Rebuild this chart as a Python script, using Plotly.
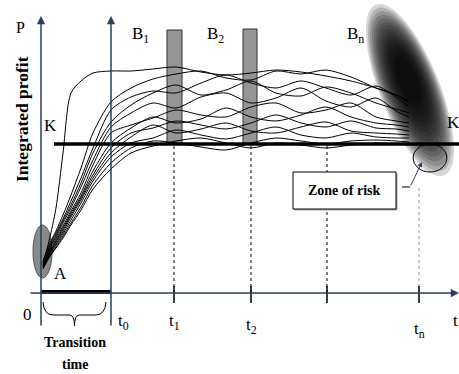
import numpy as np
import plotly.graph_objects as go

# ---------------- data (t = time units, P = integrated profit units) ----------------
t_grid = [2, 8, 15, 22, 30, 40, 52, 70, 90, 112, 135, 160, 185, 210, 235, 260, 285, 310, 335, 355, 368]

curve_P = [
    [30, 52, 85, 140, 200, 212, 220, 222, 222, 224, 226, 221, 218, 220, 223, 221, 217, 212, 205, 198, 190],
    [32, 48, 62, 78, 98, 125, 160, 191, 205, 214, 219, 222, 215, 213, 222, 219, 223, 216, 205, 198, 192],
    [31, 46, 60, 74, 92, 115, 145, 183, 196, 202, 200, 210, 218, 210, 205, 212, 205, 198, 207, 196, 186],
    [29, 44, 58, 72, 88, 110, 140, 171, 188, 200, 208, 198, 203, 212, 200, 197, 206, 200, 190, 184, 180],
    [28, 43, 56, 70, 85, 106, 133, 166, 180, 190, 185, 196, 200, 190, 195, 205, 192, 186, 195, 182, 176],
    [28, 41, 54, 67, 82, 100, 128, 160, 168, 175, 183, 178, 176, 186, 190, 180, 183, 190, 176, 172, 170],
    [27, 40, 52, 65, 80, 97, 122, 150, 165, 176, 170, 174, 185, 176, 172, 178, 186, 176, 170, 168, 166],
    [27, 39, 51, 63, 78, 95, 118, 145, 160, 165, 172, 168, 164, 170, 178, 170, 166, 172, 165, 164, 162],
    [26, 38, 49, 61, 76, 93, 115, 140, 156, 168, 160, 164, 170, 162, 160, 166, 171, 162, 160, 159, 158],
    [25, 37, 48, 59, 73, 90, 112, 136, 150, 155, 163, 158, 154, 160, 166, 158, 155, 160, 156, 155, 155],
    [25, 36, 46, 57, 70, 86, 108, 130, 145, 152, 150, 146, 143, 150, 155, 152, 149, 152, 153, 152, 151],
    [24, 35, 45, 55, 68, 83, 104, 124, 140, 147, 152, 155, 150, 145, 150, 148, 145, 148, 150, 149, 148],
]

T0 = 70
tick_t = [133, 210, 286, 378]
tick_labels = ["t<sub>1</sub>", "t<sub>2</sub>", "", "t<sub>n</sub>"]
tick_label_P = [-29, -33, None, -37]
K_level = 149
band_t = [(126, 141), (202, 216)]
band_top = [263, 264]
B_labels = ["B<sub>1</sub>", "B<sub>2</sub>", "B<sub>n</sub>"]
B_label_t = [99, 174, 314]

SERIF = "Liberation Serif, Times New Roman, DejaVu Serif, serif"

fig = go.Figure()
shapes = []
annotations = []

# dotted guide lines
for i, tt in enumerate(tick_t):
    top = K_level if i < 3 else 108
    col = "black" if i < 3 else "#999999"
    shapes.append(dict(type="line", x0=tt, x1=tt, y0=0, y1=top, xref="x", yref="y",
                       line=dict(color=col, width=1, dash="dot"), layer="below"))

# gray bands
for (a, b), top in zip(band_t, band_top):
    shapes.append(dict(type="rect", x0=a, x1=b, y0=K_level, y1=top, xref="x", yref="y",
                       fillcolor="#959595", line=dict(color="#333333", width=1), layer="below"))

# ellipse A
shapes.append(dict(type="circle", x0=-8, x1=11, y0=15, y1=68, xref="x", yref="y",
                   fillcolor="#8a8a8a", line=dict(color="#555555", width=1), layer="below"))

# curves
for P in curve_P:
    fig.add_trace(go.Scatter(x=t_grid, y=P, mode="lines",
                             line=dict(color="black", width=1, shape="spline", smoothing=0.8),
                             hoverinfo="skip", showlegend=False))

# K line
shapes.append(dict(type="line", x0=13, x1=420, y0=K_level, y1=K_level, xref="x", yref="y",
                   line=dict(color="black", width=3.5)))

# thick transition bar on t axis
shapes.append(dict(type="line", x0=0, x1=T0, y0=1, y1=1, xref="x", yref="y",
                   line=dict(color="black", width=4)))

# ticks
for tt in tick_t:
    shapes.append(dict(type="line", x0=tt, x1=tt, y0=-10, y1=7, xref="x", yref="y",
                       line=dict(color="black", width=1.5)))

# brace
L, R = 2, T0 - 5
mid = (L + R) / 2
brace = (f"M {L},-9 Q {L+1},-22 {L+10},-22 L {mid-5},-22 Q {mid},-22 {mid},-33 "
         f"Q {mid},-22 {mid+5},-22 L {R-10},-22 Q {R-1},-22 {R},-9")
shapes.append(dict(type="path", path=brace, xref="x", yref="y", line=dict(color="black", width=1)))

# zone of risk box (with light shadow)
shapes.append(dict(type="rect", x0=253.5, x1=356.5, y0=82.5, y1=119.5, xref="x", yref="y",
                   fillcolor="#aaaaaa", line=dict(width=0)))
shapes.append(dict(type="rect", x0=252, x1=355, y0=84, y1=121, xref="x", yref="y",
                   fillcolor="white", line=dict(color="black", width=1)))

# B_n cloud: many faint layered ellipses -> dark core fading outward
def ell_path(cx, cy, a, b, n=72):
    u = np.array([0.371, -0.928])
    v = np.array([0.928, 0.371])
    th = np.linspace(0, 2 * np.pi, n)
    xs = cx + a * np.cos(th) * u[0] + b * np.sin(th) * v[0]
    ys = cy + a * np.cos(th) * u[1] + b * np.sin(th) * v[1]
    return "M " + " L ".join(f"{x:.1f},{y:.1f}" for x, y in zip(xs, ys)) + " Z"

n_layers = 16
for k in range(n_layers):
    f = k / (n_layers - 1)
    a = 92 - 68 * f
    b = 30 - 21 * f
    cx = 369 - 2 * f
    cy = 203 + 10 * f
    shapes.append(dict(type="path", path=ell_path(cx, cy, a, b), xref="x", yref="y",
                       fillcolor="rgba(0,0,0,0.16)", line=dict(width=0), layer="above"))

# zone ellipse
shapes.append(dict(type="circle", x0=372, x1=406, y0=121, y1=149, xref="x", yref="y",
                   fillcolor="rgba(0,0,0,0.05)", line=dict(color="black", width=1)))
# arrow leader
shapes.append(dict(type="path", path="M 361,106 L 369,106", xref="x", yref="y",
                   line=dict(color="black", width=1)))
annotations.append(dict(x=381, y=131, ax=369, ay=106, xref="x", yref="y", axref="x", ayref="y",
                        showarrow=True, arrowhead=2, arrowsize=1, arrowwidth=1, text=""))

# axes arrows
for xa in [0, T0]:
    annotations.append(dict(x=xa, y=277, ax=xa, ay=-34, xref="x", yref="y", axref="x", ayref="y",
                            showarrow=True, arrowhead=2, arrowsize=1.1, arrowwidth=1.5, text=""))
annotations.append(dict(x=418, y=0, ax=-12, ay=0, xref="x", yref="y", axref="x", ayref="y",
                        showarrow=True, arrowhead=2, arrowsize=1.1, arrowwidth=1.5, text=""))

def txt(x, y, s, size=16, bold=False, angle=0):
    if bold:
        s = f"<b>{s}</b>"
    annotations.append(dict(x=x, y=y, xref="x", yref="y", text=s, showarrow=False, textangle=angle,
                            font=dict(family=SERIF, size=size, color="black")))

txt(-21, 266, "P")
txt(-19, 174, "Integrated profit", size=17.5, bold=True, angle=-90)
txt(9, 168, "K", size=17)
txt(412, 171, "K", size=17)
txt(19, 20, "A", size=17)
for lab, tt in zip(B_labels, B_label_t):
    txt(tt, 258, lab, size=17)
txt(-14, -21, "0", size=17)
txt(82, -29, "t<sub>0</sub>", size=17)
for tt, lab, py in zip(tick_t, tick_labels, tick_label_P):
    if lab:
        txt(tt, py, lab, size=17)
txt(414, -27, "t", size=17)
txt(34, -49, "Transition", size=14, bold=True)
txt(34, -71, "time", size=14, bold=True)
txt(303, 103, "Zone of risk", size=14, bold=True)

fig.update_layout(
    width=459, height=374, margin=dict(l=0, r=0, t=0, b=0),
    paper_bgcolor="white", plot_bgcolor="white",
    xaxis=dict(range=[-41, 418], visible=False, fixedrange=True),
    yaxis=dict(range=[-81, 293], visible=False, fixedrange=True),
    shapes=shapes, annotations=annotations, showlegend=False,
)

fig.write_html("out.html")
